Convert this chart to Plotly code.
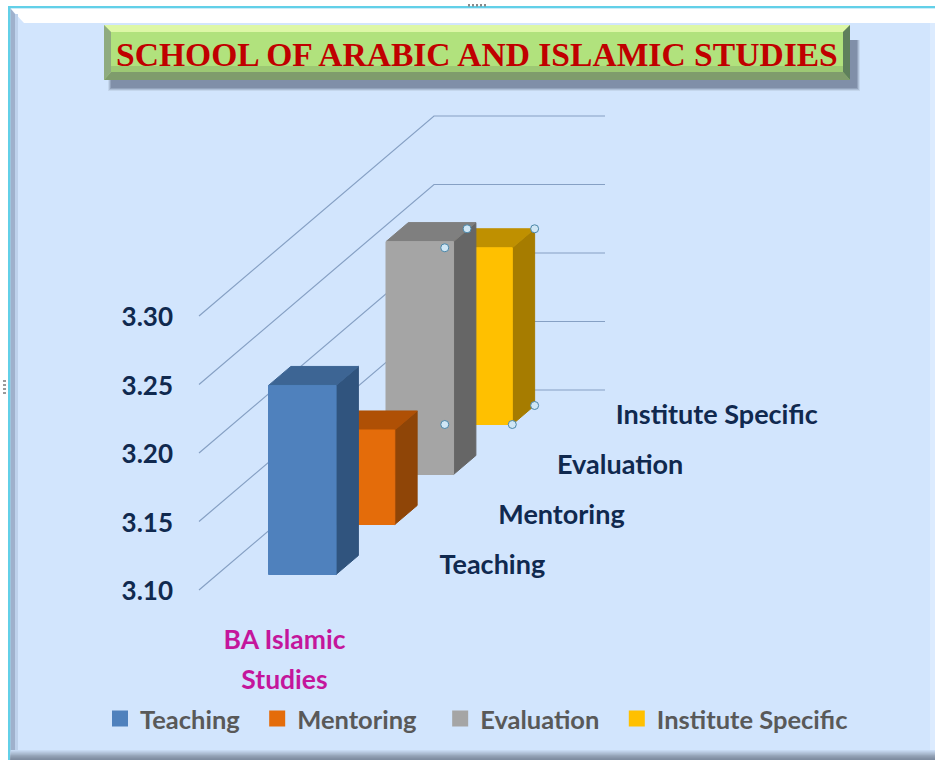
import plotly.graph_objects as go

# ---- data ----
CATEGORY_LINES = ["BA Islamic", "Studies"]
SERIES = ["Teaching", "Mentoring", "Evaluation", "Institute Specific"]
VALUES = [3.238, 3.169, 3.27, 3.229]
TICK_VALUES = [3.10, 3.15, 3.20, 3.25, 3.30]
TICK_LABELS = ["3.10", "3.15", "3.20", "3.25", "3.30"]

FRONT = ["#4F81BD", "#E46C0A", "#A5A5A5", "#FFC000"]
TOP = ["#3D6594", "#AF5005", "#7F7F7F", "#BF9000"]
SIDE = ["#30547E", "#8F4507", "#666666", "#A67C00"]

# ---- oblique projection of the 3-D scene on the 2-D axes ----
W, H = 935, 760
X0_PX, Y0_PX = 199, 590      # origin of floor
CAT_PX = 171                 # pixels per category
VAL_PX = 1370                # pixels per value unit
ROW_DX = 58.75 / CAT_PX      # one series row of depth, in x units
ROW_DY = 50 / VAL_PX         # one series row of depth, in value units
FLOOR = TICK_VALUES[0]
BAR_X0, BAR_X1 = 0.30, 0.695
DEPTH0, DEPTH1 = 0.31, 0.69
AXIS_PX = 176
LEGEND_PAD = ["\u00a0" * 2, "\u00a0" * 3, "\u00a0" * 2, ""]


def proj(x, depth, value):
    return x + depth * ROW_DX, value + depth * ROW_DY


def poly(points):
    pts = [proj(*p) for p in points]
    pts.append(pts[0])
    return [p[0] for p in pts], [p[1] for p in pts]


def px(p):
    return p / W


def py(p):
    return 1 - p / H


def rect(x0, y0, x1, y1, color, layer="below"):
    return dict(type="rect", xref="paper", yref="paper", x0=px(x0), x1=px(x1),
                y0=py(y0), y1=py(y1), fillcolor=color, line_width=0, layer=layer)


def path(points, color, layer="below"):
    d = "M" + " L".join(f"{px(a):.5f},{py(b):.5f}" for a, b in points) + " Z"
    return dict(type="path", xref="paper", yref="paper", path=d, fillcolor=color,
                line_width=0, layer=layer)


fig = go.Figure()
N = len(SERIES)

# walls / gridlines
for i, t in enumerate(TICK_VALUES):
    xs = [0, N * ROW_DX, 1 + N * ROW_DX]
    ys = [t, t + N * ROW_DY, t + N * ROW_DY]
    fig.add_trace(go.Scatter(x=xs, y=ys, mode="lines", showlegend=False, hoverinfo="skip",
                             line=dict(color="#86A0C4", width=1.2)))

# bars back to front
for i in reversed(range(N)):
    v = VALUES[i]
    a, b, d0, d1 = BAR_X0, BAR_X1, i + DEPTH0, i + DEPTH1
    faces = [
        ([(b, d0, FLOOR), (b, d1, FLOOR), (b, d1, v), (b, d0, v)], SIDE[i]),
        ([(a, d0, v), (b, d0, v), (b, d1, v), (a, d1, v)], TOP[i]),
        ([(a, d0, FLOOR), (b, d0, FLOOR), (b, d0, v), (a, d0, v)], FRONT[i]),
    ]
    for pts, col in faces:
        xs, ys = poly(pts)
        fig.add_trace(go.Scatter(x=xs, y=ys, mode="lines", fill="toself", fillcolor=col,
                                 line=dict(color=col, width=1), showlegend=False,
                                 hoverinfo="skip", name=SERIES[i]))

# selection handles on the last series
i = N - 1
v = VALUES[i]
a, b, d0, d1 = BAR_X0, BAR_X1, i + DEPTH0, i + DEPTH1
handles = [proj(a, d0, v), proj(a, d1, v), proj(b, d1, v), proj(b, d1, FLOOR),
           proj(b, d0, FLOOR), proj(a, d0, FLOOR)]
fig.add_trace(go.Scatter(x=[h[0] for h in handles], y=[h[1] for h in handles], mode="markers",
                         showlegend=False, hoverinfo="skip",
                         marker=dict(size=8, color="#CFE6F5", line=dict(color="#4A86A8", width=1))))

# series labels on the depth axis
lab = [proj(1.235, k + 0.5, FLOOR - 2.5 / VAL_PX) for k in range(N)]
fig.add_trace(go.Scatter(x=[p[0] for p in lab], y=[p[1] for p in lab], text=SERIES,
                         mode="text", textposition="middle right", showlegend=False,
                         hoverinfo="skip",
                         textfont=dict(family="Lato", size=27, color="#10294F", weight="bold")))

# category label
fig.add_trace(go.Scatter(x=[0.5, 0.5], y=[FLOOR - 52 / VAL_PX, FLOOR - 92 / VAL_PX],
                         text=CATEGORY_LINES, mode="text", textposition="middle center",
                         showlegend=False, hoverinfo="skip",
                         textfont=dict(family="Lato", size=26.5, color="#C4169C", weight="bold")))

# legend
for i in range(N):
    fig.add_trace(go.Scatter(x=[None], y=[None], mode="markers", name=SERIES[i] + LEGEND_PAD[i],
                             marker=dict(symbol="square", size=16, color=FRONT[i])))

shapes = [rect(0, 0, W, H, "#FFFFFF"), rect(9, 7, W, H, "#D2E5FD")]
# frame
shapes += [rect(8, 6, W, 8.5, "#62D0E8"), rect(8, 6, 10.5, H, "#62D0E8")]
shapes.append(path([(10.5, 8.5), (W, 8.5), (W, 23), (24, 23)], "#FFFFFF"))
shapes.append(path([(10.5, 8.5), (15, 14), (15, H), (10.5, H)], "#9FB1CC"))
shapes.append(rect(15, 14, 18, H, "#BED2EC"))
for k, c in enumerate(["#C7DAF2", "#BBCDE4", "#AFC0D6", "#A3B3C8", "#98A7BB", "#8E9CB0", "#8593A7", "#7F8DA1"]):
    shapes.append(rect(10.5, 750 + k * 1.25, W, 760, c))
shapes.append(rect(930, 23, W, 750, "#DCEBFE"))
# handles of the object frame
for xp in range(468, 486, 4):
    shapes.append(rect(xp, 4, xp + 2, 6.5, "#8A8A8A"))
for yp in range(380, 396, 4):
    shapes.append(rect(3, yp, 6, yp + 2, "#9A9A9A"))

# title plate: shadow and bevel
for k, c in enumerate(["#C4D6EC", "#AEBFD6", "#94A4BC", "#808FA8"]):
    g = 4 - k
    shapes.append(rect(112 - g, 40, 858 + g - 2, 88 + g - 1, c))
shapes.append(rect(104, 25, 850, 80, "#B1E27D"))
shapes.append(path([(104, 25), (850, 25), (843, 32), (111, 32)], "#DDF7A6"))
shapes.append(path([(104, 80), (850, 80), (843, 72), (111, 72)], "#7F9C6C"))
shapes.append(path([(850, 25), (850, 80), (843, 72), (843, 32)], "#5E7F5C"))
shapes.append(path([(104, 25), (104, 80), (111, 72), (111, 32)], "#8FAB80"))
shapes.append(rect(111, 66, 843, 72, "#9DC974"))

annotations = [dict(text="SCHOOL OF ARABIC AND ISLAMIC STUDIES", xref="paper", yref="paper",
                    x=px(477), y=py(54), xanchor="center", yanchor="middle", showarrow=False,
                    font=dict(family="Liberation Serif", size=33.6, color="#C00000", weight="bold"))]

fig.update_layout(
    width=W, height=H, margin=dict(l=0, r=0, t=0, b=0),
    paper_bgcolor="#FFFFFF", plot_bgcolor="rgba(0,0,0,0)",
    shapes=shapes, annotations=annotations,
    xaxis=dict(range=[-X0_PX / CAT_PX, (W - X0_PX) / CAT_PX], visible=False, fixedrange=True),
    yaxis=dict(range=[FLOOR - (H - Y0_PX) / VAL_PX, FLOOR + Y0_PX / VAL_PX],
               anchor="free", position=AXIS_PX / W,
               tickmode="array", tickvals=TICK_VALUES, ticktext=TICK_LABELS,
               showgrid=False, zeroline=False, showline=False, ticks="",
               ticklabelshift=1, ticklabelstandoff=3,
               tickfont=dict(family="Lato", size=26, color="#10294F", weight="bold"),
               automargin=False, fixedrange=True),
    legend=dict(orientation="h", xref="paper", yref="paper", x=px(100), y=py(719),
                xanchor="left", yanchor="middle", bgcolor="rgba(0,0,0,0)", itemclick=False,
                font=dict(family="Lato", size=25.5, color="#595959", weight="bold"), itemwidth=30),
    font=dict(family="Lato"),
)

fig.write_html("out.html", config={"displayModeBar": False},
               post_script="document.body.style.margin='0';document.documentElement.style.overflow='hidden';")
